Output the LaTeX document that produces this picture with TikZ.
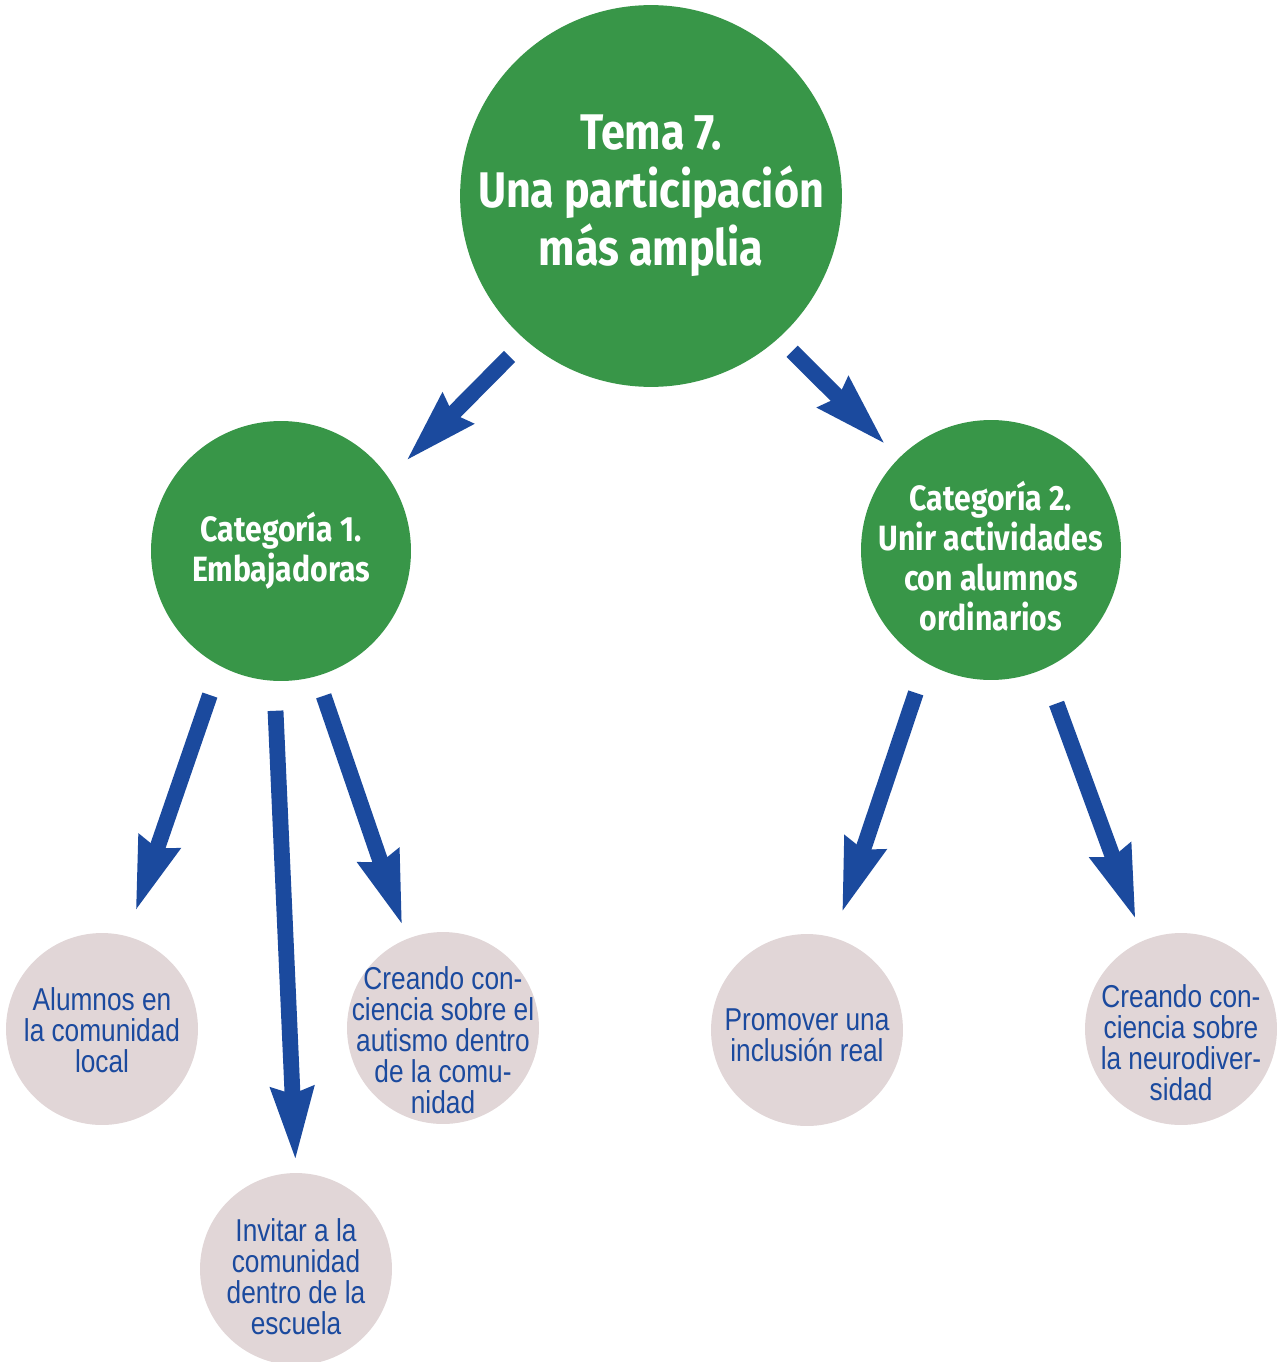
\documentclass[tikz,border=0pt]{standalone}
\usepackage{fontspec}
\setmainfont{Liberation Sans}
\newfontfamily\verdefont[FakeStretch=0.86]{Fira Sans}
\newfontfamily\hojafont[FakeStretch=0.83]{Liberation Sans}
\usetikzlibrary{arrows.meta}
\definecolor{verde}{RGB}{56,150,72}
\definecolor{azul}{RGB}{27,74,158}
\definecolor{rosa}{RGB}{225,214,215}

\begin{document}
\begin{tikzpicture}[x=0.02cm, y=-0.02cm,
        tema/.style={circle, fill=verde, text=white, inner sep=0pt, outer sep=0pt,
            minimum size=7.56cm, align=center,
            font=\verdefont\bfseries\fontsize{28.5}{32.9}\selectfont},
        cat/.style={circle, fill=verde, text=white, inner sep=-14pt, outer sep=0pt,
            minimum size=5.2cm, align=center,
            font=\verdefont\bfseries\fontsize{20}{22.7}\selectfont},
        hoja/.style={circle, fill=rosa, inner sep=0pt, outer sep=0pt,
            minimum size=3.84cm},
        hojatxt/.style={text=azul, align=center, inner sep=0pt,
            font=\hojafont\fontsize{18}{17.6}\selectfont},
        flecha/.style={draw=azul, line width=9pt,
            -{Stealth[length=41pt, width=23pt, inset=3pt]}},
    ]
    \useasboundingbox (0,0) rectangle (1277,1362);

    % circulos
    \node[tema] (tema) at (651,196) {Tema 7.\\Una participación\\más amplia};
    \node[cat] (cat1) at (281,551) {Categoría 1.\\Embajadoras};
    \node[cat, label={[text=white, align=center, inner sep=0pt,
            font=\verdefont\bfseries\fontsize{20}{22.7}\selectfont, yshift=-0.12cm]
            center:Categoría 2.\\Unir actividades\\con alumnos\\ordinarios}]
        (cat2) at (991,550) {};
    \node[hoja, label={[hojatxt, yshift=-0.02cm]center:Alumnos en\\la comunidad\\local}]
        (alumnos) at (102,1029) {};
    \node[hoja, label={[hojatxt, yshift=-0.16cm]center:Invitar a la\\comunidad\\dentro de la\\escuela}]
        (invitar) at (296,1269) {};
    \node[hoja, label={[hojatxt, yshift=-0.24cm]center:Creando con-\\ciencia sobre el\\autismo dentro\\de la comu-\\nidad}]
        (creando1) at (443,1028) {};
    \node[hoja, label={[hojatxt, yshift=-0.10cm]center:Promover una\\inclusión real}]
        (promover) at (807,1030) {};
    \node[hoja, label={[hojatxt, yshift=-0.28cm]center:Creando con-\\ciencia sobre\\la neurodiver-\\sidad}]
        (creando2) at (1181,1029) {};

    % flechas
    \draw[flecha, shorten <=0.46cm, shorten >=0.48cm] (tema.-131) -- (cat1.34.9);
    \draw[flecha, shorten <=0.38cm, shorten >=0.38cm] (tema.-48.1) -- (cat2.135.3);
    \draw[flecha, shorten <=0.62cm, shorten >=0.52cm] (cat1.-118) -- (alumnos.75.6);
    \draw[flecha, shorten <=0.60cm, shorten >=0.24cm] (cat1.-93.9) -- (invitar.90);
    \draw[flecha, shorten <=0.42cm, shorten >=0.28cm] (cat1.-74.2) -- (creando1.112.1);
    \draw[flecha, shorten <=0.64cm, shorten >=0.52cm] (cat2.-120.1) -- (promover.74.1);
    \draw[flecha, shorten <=0.74cm, shorten >=0.44cm] (cat2.-66.4) -- (creando2.113.1);
\end{tikzpicture}
\end{document}
